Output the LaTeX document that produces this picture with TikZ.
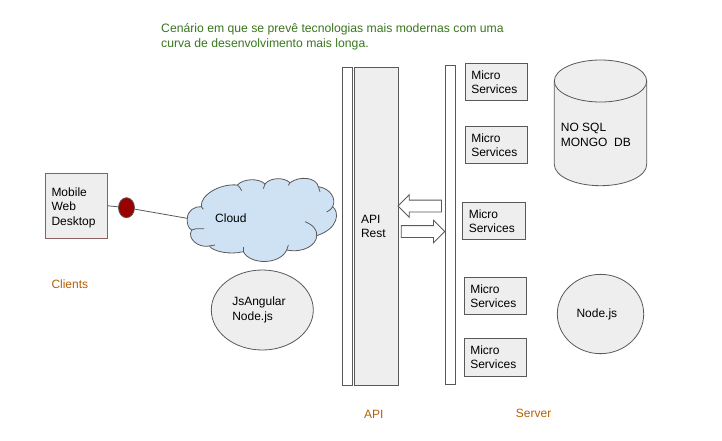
\documentclass[tikz,border=0pt]{standalone}
\usepackage{fontspec}
\setmainfont{Liberation Sans}
\usetikzlibrary{positioning,shapes.geometric,shapes.arrows}
\definecolor{boxgray}{HTML}{EEEEEE}
\definecolor{linegray}{HTML}{595959}
\definecolor{cloudblue}{HTML}{CFE2F3}
\definecolor{titlegreen}{HTML}{38761D}
\definecolor{labelorange}{HTML}{B45F06}
\definecolor{clientred}{HTML}{8E5F5F}
\definecolor{dotred}{HTML}{990000}
\tikzset{
  every node/.style={font=\fontsize{12}{14.5}\selectfont},
  shapeline/.style={draw=linegray,line width=0.8pt},
  graybox/.style={shapeline,fill=boxgray,rectangle,inner sep=0pt,align=left},
  microbox/.style={graybox,minimum width=62.4pt,minimum height=37.2pt,text width=50.4pt},
  bar/.style={shapeline,fill=white,rectangle,inner sep=0pt,minimum width=10.3pt},
  grayellipse/.style={shapeline,fill=boxgray,ellipse,inner sep=0pt,align=left},
  blockarrow/.style={shapeline,fill=white,single arrow,inner sep=5.5pt,single arrow head extend=5.3pt,
    minimum height=43.5pt,minimum width=21.8pt},
  colorlabel/.style={text=labelorange,anchor=west,inner sep=0pt},
}
\begin{document}
\begin{tikzpicture}[x=1pt,y=-1pt]
    \useasboundingbox (0,0) rectangle (722,440);
    % title
    \node[text=titlegreen,anchor=west,align=left,inner sep=0pt,font=\fontsize{12.2}{14.5}\selectfont] (title) at (161,36.6)
      {Cenário em que se prevê tecnologias mais modernas com uma\\curva de desenvolvimento mais longa.};
    % clients
    \node[graybox,draw=clientred,minimum width=62.2pt,minimum height=65.7pt,text width=50.2pt] (client) at (76.6,205.8) {\rule{0pt}{12pt}Mobile\\Web\\Desktop};
    \node[colorlabel] (clients) at (51.3,284) {Clients};
    % cloud
    \begin{scope}[shift={(180,170)},x=1pt/3,y=-1pt/3]
      \coordinate (cloudleft) at (22,145);
      \draw[shapeline,fill=cloudblue] (22,145) .. controls (22,122) and (45,108) .. (64,110)
        .. controls (60,75) and (120,40) .. (172,45)
        .. controls (190,26) and (235,23) .. (255,42)
        .. controls (270,23) and (310,20) .. (330,38)
        .. controls (360,16) and (410,23) .. (415,50)
        .. controls (450,55) and (470,85) .. (458,110)
        .. controls (478,125) and (478,175) .. (410,197)
        .. controls (410,225) and (370,250) .. (320,240)
        .. controls (300,285) and (210,285) .. (190,245)
        .. controls (150,255) and (100,245) .. (88,228)
        .. controls (55,235) and (20,205) .. (35,180)
        .. controls (25,175) and (20,160) .. (22,145) -- cycle;
      \draw[shapeline] (64,110) .. controls (65,114) .. (70,118);
      \draw[shapeline] (172,45) .. controls (178,50) .. (185,62);
      \draw[shapeline] (255,42) .. controls (252,48) .. (250,56);
      \draw[shapeline] (330,38) .. controls (328,41) .. (325,46);
      \draw[shapeline] (415,50) .. controls (417,55) .. (420,65);
      \draw[shapeline] (458,110) .. controls (453,118) .. (440,126);
      \draw[shapeline] (375,155) .. controls (400,165) and (412,180) .. (410,197);
      \draw[shapeline] (320,240) .. controls (321,235) .. (325,225);
      \draw[shapeline] (190,245) .. controls (189,240) .. (190,232);
      \draw[shapeline] (88,228) .. controls (94,227) .. (105,225);
      \draw[shapeline] (35,180) .. controls (45,176) .. (72,176);
    \end{scope}
    \node[anchor=west,inner sep=0pt] (cloud) at (215,218.5) {Cloud};
    % link from the clients to the cloud
    \node[shapeline,fill=dotred,ellipse,inner sep=0pt,minimum width=16pt,minimum height=20pt] (dot) at (126.5,207.7) {};
    \draw[shapeline] (client.east) -- (dot);
    \draw[shapeline] (dot) -- (cloudleft);
    \node[grayellipse,minimum width=102pt,minimum height=80pt,text width=60pt] (angular) at (262.3,310) {JsAngular\\Node.js};
    % api
    \node[bar,minimum height=318pt] (apibar) at (347.5,226.3) {};
    \node[graybox,minimum width=44.4pt,minimum height=318pt,text width=31pt] (api) at (376.5,226.3) {API\\Rest};
    \node[colorlabel] (apilabel) at (364,414) {API};
    % server
    \node[bar,minimum height=319pt] (serverbar) at (450.6,224.8) {};
    \node[blockarrow,rotate=180] (arrowin) at (422.7,206) {};
    \node[blockarrow] (arrowout) at (420,231.5) {};
    \node[microbox] (micro1) at (496.5,82) {Micro\\Services};
    \node[microbox] (micro2) at (496.5,145.2) {Micro\\Services};
    \node[microbox] (micro3) at (494,221) {Micro\\Services};
    \node[microbox] (micro4) at (495.5,296.2) {Micro\\Services};
    \node[microbox] (micro5) at (495.5,357.4) {Micro\\Services};
    \node[colorlabel] (serverlabel) at (515.7,413.3) {Server};
    % databases
    \draw[shapeline,fill=boxgray] (554.3,81) -- (554.3,164.5) arc[start angle=180,end angle=0,x radius=46.2,y radius=21.2] -- (646.7,81);
    \draw[shapeline,fill=boxgray] (600.5,81) ellipse[x radius=46.2,y radius=21];
    \node[anchor=west,align=left,inner sep=0pt] (mongo) at (560.7,135) {NO SQL\\MONGO\ \ DB};
    \node[grayellipse,minimum width=86.4pt,minimum height=79.3pt,text width=48pt] (nodejs) at (600.5,314) {Node.js};
  \end{tikzpicture}
\end{document}
